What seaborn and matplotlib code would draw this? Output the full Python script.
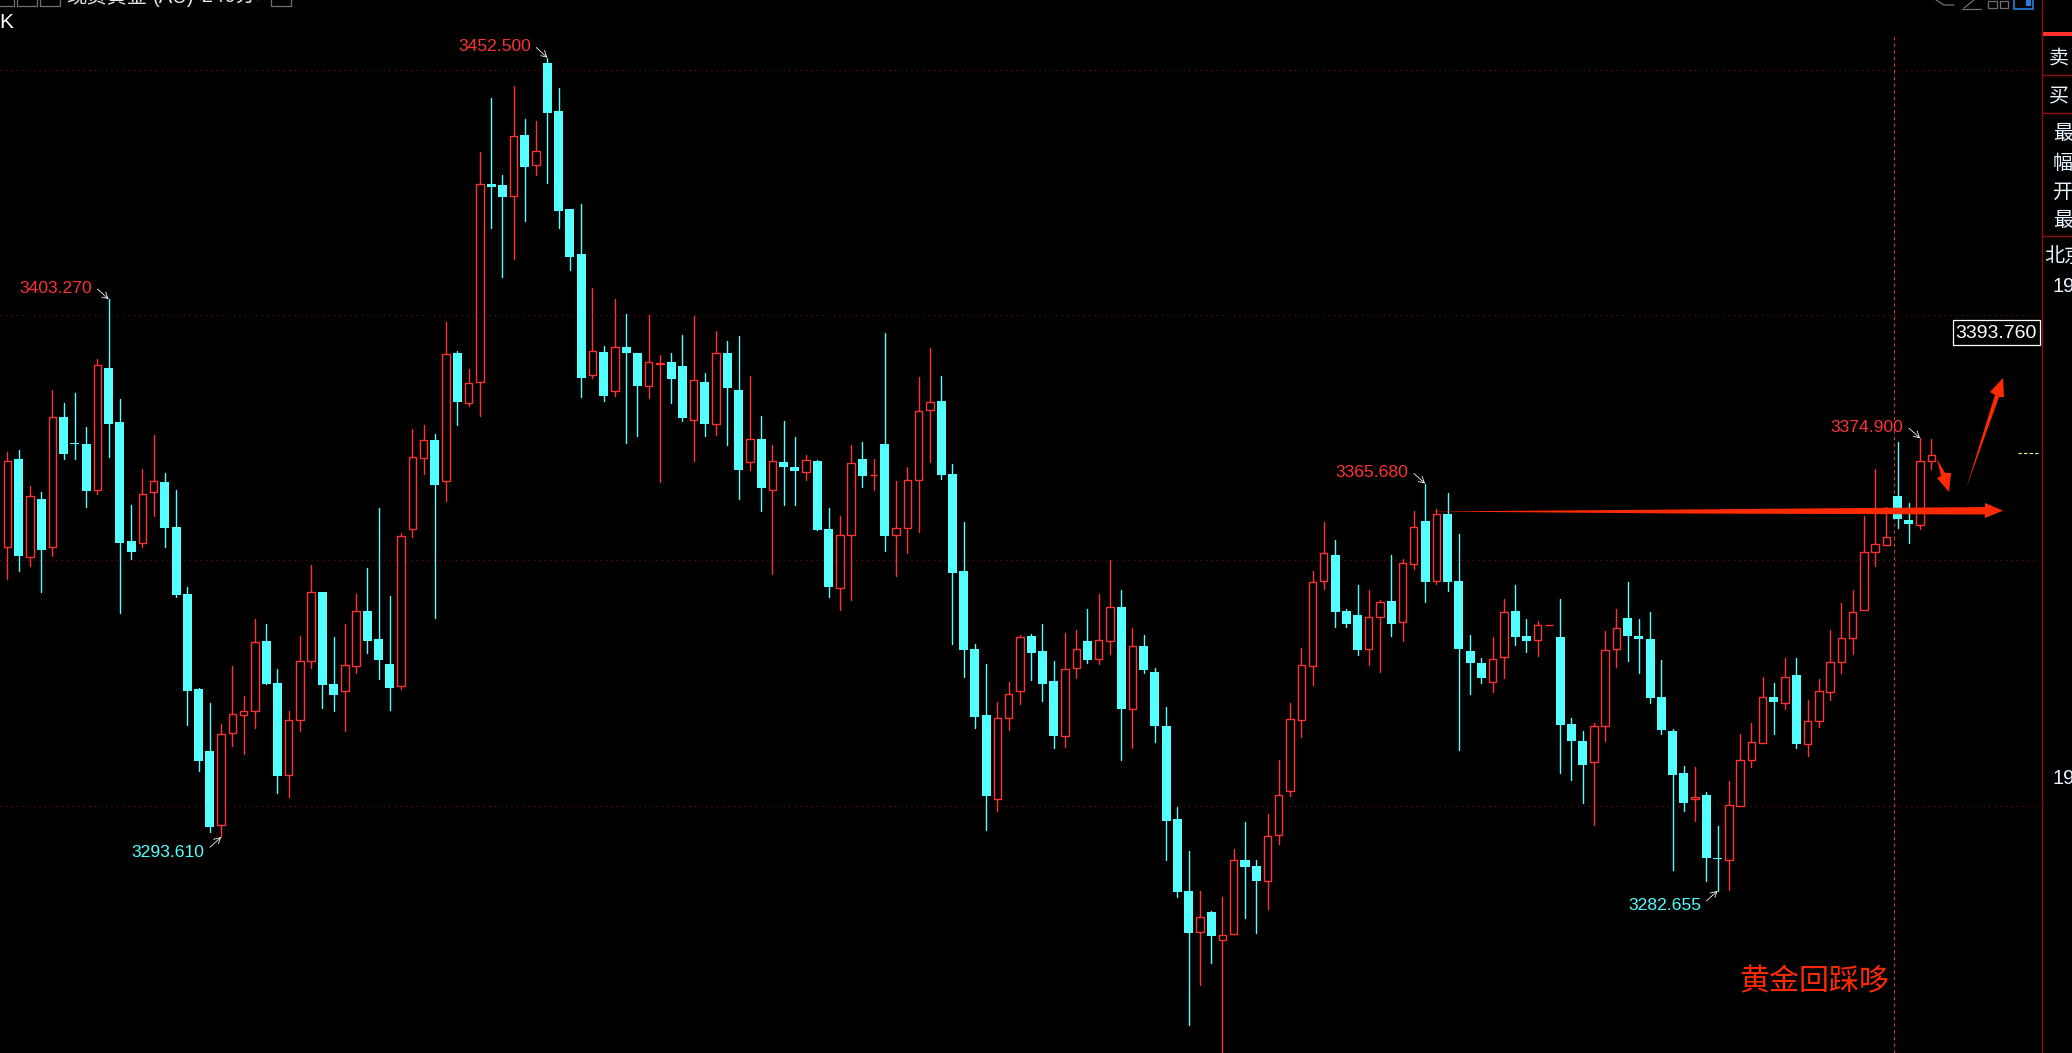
import numpy as np
import pandas as pd
import seaborn as sns
import matplotlib
matplotlib.use("Agg")
import matplotlib.pyplot as plt
from matplotlib.patches import Polygon, Rectangle

# candle values (4h spot gold)
directions = ("RCRCRCCCRC" "CCRRCCCCCR" "RRRCCRRRCC" "RRCCCRRRCR" "CRRCCRCRCC"
              "CCRCRCCRRC" "CRCRCCRCRC" "CRCCRRCRCR" "RRRCCCCCRR" "RCCCRRCRRC"
              "RCCCCCRCRR" "CCRRRRRRCC" "CRRCRRCRCC" "CCRRCCRRCC" "CRRRCCCCCC"
              "RCCRRRRCRC" "RRRRRRRRCCRR")

highs = [3372.2,3372.6,3365.2,3364.0,3384.7,3382.0,3384.1,3377.3,3391.1,3403.27,
         3383.0,3361.3,3368.6,3375.5,3367.8,3364.3,3344.5,3324.1,3321.0,3316.6,
         3328.4,3322.3,3338.1,3337.1,3327.9,3319.3,3334.7,3349.0,3343.6,3334.5,
         3337.1,3343.1,3348.5,3360.6,3342.8,3355.6,3376.7,3377.7,3375.7,3398.7,
         3392.8,3389.1,3433.2,3444.3,3428.5,3446.7,3439.9,3439.6,3452.5,3446.3,
         3421.6,3422.6,3405.5,3393.8,3403.3,3400.3,3392.3,3400.0,3391.8,3392.2,
         3395.9,3399.8,3388.3,3396.7,3394.7,3395.7,3387.7,3379.4,3373.6,3378.4,
         3375.1,3371.4,3370.4,3360.6,3359.1,3373.6,3374.2,3370.6,3396.3,3366.3,
         3369.1,3387.5,3393.4,3387.6,3369.7,3357.8,3333.0,3328.9,3321.2,3325.3,
         3334.8,3335.1,3337.0,3329.5,3335.3,3335.8,3340.2,3343.2,3350.1,3344.0,
         3336.2,3334.8,3328.1,3320.2,3299.7,3290.8,3282.6,3278.5,3281.4,3291.2,
         3296.7,3288.9,3298.3,3309.3,3321.0,3332.1,3347.9,3357.9,3354.2,3340.2,
         3344.9,3343.9,3342.0,3351.1,3350.4,3360.0,3365.68,3360.4,3363.7,3355.3,
         3334.9,3330.2,3334.3,3342.2,3344.9,3338.0,3337.6,3336.9,3342.2,3317.8,
         3315.3,3316.9,3335.7,3340.2,3345.7,3338.0,3339.4,3329.8,3315.7,3308.2,
         3307.8,3302.9,3295.9,3305.1,3314.7,3316.8,3326.3,3325.1,3330.2,3330.2,
         3321.6,3325.9,3335.9,3341.4,3343.9,3359.0,3368.6,3360.9,3374.1,3361.7,3374.9,3374.7]

body_tops = [3370.3,3370.6,3363.1,3362.6,3379.2,3379.3,3373.9,3373.7,3389.8,3389.2,
             3378.3,3354.0,3363.6,3366.1,3366.0,3356.8,3343.2,3323.8,3311.2,3314.6,
             3318.8,3319.3,3333.4,3333.6,3325.1,3317.4,3329.6,3343.5,3343.6,3324.8,
             3328.6,3339.6,3339.7,3334.0,3328.9,3354.9,3371.0,3374.5,3374.6,3392.0,
             3392.3,3386.1,3426.8,3426.8,3426.6,3436.6,3436.7,3433.4,3451.5,3441.7,
             3421.6,3412.5,3392.8,3392.5,3393.6,3393.6,3392.3,3390.4,3390.3,3390.5,
             3389.6,3386.7,3386.3,3392.2,3392.3,3384.7,3374.8,3374.7,3370.2,3370.0,
             3369.1,3370.4,3370.3,3356.4,3355.1,3369.9,3370.7,3367.5,3373.7,3356.7,
             3366.5,3380.4,3382.4,3382.5,3367.6,3347.8,3332.0,3318.4,3317.9,3322.8,
             3334.4,3334.7,3331.6,3325.4,3327.9,3331.9,3333.5,3333.8,3340.5,3340.6,
             3332.6,3332.5,3327.3,3316.2,3297.4,3282.7,3277.3,3278.3,3273.7,3288.9,
             3289.0,3287.8,3293.8,3302.2,3317.7,3328.7,3345.6,3351.5,3351.1,3339.6,
             3338.8,3338.5,3341.5,3341.8,3349.4,3356.9,3358.0,3359.4,3359.5,3345.8,
             3331.6,3329.0,3330.0,3339.4,3339.7,3334.6,3336.9,3336.9,3334.4,3316.6,
             3313.3,3316.3,3331.8,3336.3,3338.2,3334.6,3333.9,3322.1,3315.2,3306.6,
             3301.8,3302.1,3289.4,3300.2,3309.4,3313.0,3322.2,3322.1,3326.3,3326.6,
             3317.3,3323.3,3329.4,3334.1,3339.4,3351.8,3353.3,3354.7,3363.1,3358.2,3370.2,3371.4]

body_bottoms = [3352.7,3350.9,3350.8,3352.2,3352.7,3371.7,3373.7,3364.2,3364.3,3377.8,
                3353.6,3351.8,3353.6,3363.9,3356.6,3343.0,3323.4,3309.2,3295.7,3296.0,
                3314.8,3318.6,3319.3,3324.8,3306.1,3306.2,3317.4,3329.6,3324.6,3322.6,
                3323.3,3328.4,3333.6,3329.8,3324.1,3324.5,3356.5,3370.8,3365.4,3366.3,
                3382.3,3382.2,3386.3,3426.1,3424.1,3424.2,3430.2,3430.6,3441.3,3421.3,
                3411.9,3387.2,3387.9,3383.5,3384.5,3392.3,3385.6,3385.5,3390.1,3387.0,
                3379.0,3378.7,3377.8,3377.9,3385.1,3368.4,3370.1,3364.8,3364.4,3369.1,
                3368.2,3368.0,3356.2,3344.5,3344.4,3355.2,3367.2,3367.4,3355.0,3355.1,
                3356.7,3366.5,3380.7,3367.4,3347.4,3331.8,3318.0,3301.9,3301.4,3317.9,
                3323.4,3331.2,3324.9,3314.3,3314.2,3328.1,3329.8,3329.9,3333.6,3319.8,
                3319.7,3327.6,3316.2,3296.8,3282.5,3274.1,3274.2,3273.4,3272.6,3273.8,
                3287.6,3284.7,3284.6,3294.0,3303.0,3317.4,3328.5,3345.8,3339.4,3337.1,
                3331.8,3331.9,3338.5,3337.1,3337.5,3349.3,3345.6,3345.9,3345.6,3331.9,
                3329.0,3326.0,3325.2,3330.3,3334.4,3333.5,3333.8,3336.8,3316.4,3313.1,
                3308.4,3308.9,3316.3,3332.0,3334.6,3333.9,3321.9,3315.4,3306.2,3300.5,
                3301.4,3289.3,3289.1,3288.9,3299.9,3309.3,3312.8,3321.1,3321.0,3312.6,
                3312.6,3317.3,3323.2,3329.3,3334.1,3339.9,3351.7,3353.2,3358.5,3357.4,3357.3,3370.3]

lows = [3346.2,3347.8,3348.9,3343.6,3350.9,3370.7,3370.6,3360.9,3363.5,3371.1,
        3339.3,3350.3,3352.8,3359.1,3352.7,3342.5,3316.5,3307.1,3294.7,3293.61,
        3312.2,3310.5,3315.9,3324.8,3302.6,3301.8,3315.2,3328.1,3319.9,3319.4,
        3315.2,3327.1,3331.1,3325.8,3319.5,3323.7,3354.8,3367.7,3338.3,3362.2,
        3377.6,3381.5,3379.5,3417.7,3407.8,3411.5,3419.1,3428.6,3427.0,3417.8,
        3409.3,3383.3,3387.2,3382.5,3383.5,3374.0,3375.3,3383.1,3366.0,3382.1,
        3378.4,3370.3,3375.3,3375.6,3373.5,3362.5,3368.4,3360.1,3347.2,3361.3,
        3361.3,3366.4,3356.2,3342.5,3340.0,3341.9,3364.9,3364.3,3351.9,3346.8,
        3351.5,3355.8,3370.0,3366.7,3332.9,3326.3,3315.8,3295.1,3299.0,3315.4,
        3320.7,3325.6,3321.3,3311.7,3312.0,3326.0,3329.2,3328.8,3330.9,3309.4,
        3311.7,3327.1,3312.9,3289.0,3281.5,3255.3,3263.4,3268.0,3248.0,3273.8,
        3277.2,3274.1,3279.0,3292.3,3301.9,3314.1,3324.7,3344.1,3336.5,3336.5,
        3330.7,3328.6,3327.3,3334.7,3333.5,3348.2,3341.5,3345.2,3343.7,3311.3,
        3322.7,3325.0,3323.1,3326.0,3332.7,3331.3,3330.5,3336.8,3306.6,3305.2,
        3300.5,3296.0,3313.1,3328.2,3329.5,3327.0,3320.9,3314.6,3287.0,3299.0,
        3296.8,3284.6,3282.655,3282.9,3299.9,3307.8,3312.8,3314.6,3319.7,3311.8,
        3310.1,3316.0,3321.5,3327.0,3330.9,3339.9,3348.8,3353.2,3356.6,3353.6,3356.4,3368.7]

grid_prices = [3450, 3400, 3350, 3300]
peak_index = [9, 48, 126, 170]
peak_labels = ["3403.270", "3452.500", "3365.680", "3374.900"]
trough_index = [19, 152]
trough_labels = ["3293.610", "3282.655"]
last_price = 3371.9
cursor_index = 167.7
cursor_label = "3393.760"
note = "黄金回踩哆"
title_parts = ["现货黄金", "(AU)", "<240分>"]
side_labels = ["卖", "买", "最", "幅", "开", "最", "北京", "19"]

W, H = 2072, 1053
RED = "#ff3232"
CYAN = "#54ffff"
ARROW = "#ff2a00"
GRID = "#7a0f0f"
PANEL = "#8c1010"

sns.set_theme(style="dark", rc={"axes.facecolor": "black", "figure.facecolor": "black"})
plt.rcParams["font.family"] = ["Liberation Sans", "Noto Sans CJK SC", "DejaVu Sans"]

df = pd.DataFrame({"high": highs, "top": body_tops, "bottom": body_bottoms, "low": lows,
                   "dir": list(directions)})
df["idx"] = df.index
wicks = df.melt(id_vars=["idx", "dir"], value_vars=["high", "low"], value_name="price")

fig = plt.figure(figsize=(W / 100, H / 100), dpi=100)
ax = fig.add_axes([0, 0, 1, 1])
ax.axis("off")

ax.hlines(grid_prices, -0.65, 180.6, colors=GRID, linestyles=(0, (1, 4)), lw=0.8, zorder=1)
ax.axvline(cursor_index, ymax=1 - 36 / H, color="#d23c3c", ls=(0, (3, 3)), lw=0.8, zorder=1)

sns.lineplot(data=wicks, x="idx", y="price", units="idx", hue="dir", estimator=None,
             palette={"R": RED, "C": CYAN}, lw=1.0, legend=False, ax=ax, zorder=2)

up = df[df["dir"] == "R"]
down = df[df["dir"] == "C"]
ax.bar(down["idx"], down["top"] - down["bottom"], bottom=down["bottom"], width=0.8,
       color=CYAN, lw=0, zorder=3)
ax.bar(up["idx"], up["top"] - up["bottom"], bottom=up["bottom"], width=0.66,
       facecolor="black", edgecolor=RED, lw=1.0, zorder=3)

ax.set_xlim(-0.65, 183.5)
ax.set_ylim(3249.6, 3464.25)

# high / low callouts
tip = dict(arrowstyle="->,head_length=0.35,head_width=0.2", color="white",
           lw=0.7, ls=(0, (1, 1)), shrinkA=0, shrinkB=0)
for i, lab in zip(peak_index, peak_labels):
    ax.annotate(lab, (i, highs[i]), xytext=(-16.5, 11), textcoords="offset pixels",
                color=RED, fontsize=12.6, ha="right", va="center", zorder=6)
    ax.annotate("", (i, highs[i]), xytext=(-11, 10), textcoords="offset pixels", zorder=6,
                arrowprops=tip)
for i, lab in zip(trough_index, trough_labels):
    ax.annotate(lab, (i, lows[i]), xytext=(-16.5, -15), textcoords="offset pixels",
                color=CYAN, fontsize=12.6, ha="right", va="center", zorder=6)
    ax.annotate("", (i, lows[i]), xytext=(-11, -10), textcoords="offset pixels", zorder=6,
                arrowprops=tip)

ax.hlines(last_price, 178.7, 180.6, colors="#ffff99", linestyles=(0, (3, 2)), lw=0.8, zorder=2)

# overlay in pixel coordinates for the screenshot furniture and hand drawn arrows
ov = fig.add_axes([0, 0, 1, 1], facecolor="none")
ov.set_xlim(0, W)
ov.set_ylim(H, 0)
ov.axis("off")

ov.add_patch(Polygon([(1425, 511.5), (1680, 509.5), (1985, 507), (1985, 503), (2003, 510.7),
                      (1985, 518), (1985, 514.5), (1680, 513.5)], color=ARROW, lw=0, zorder=7))
ov.add_patch(Polygon([(1966, 489), (1995, 395), (1990, 392), (2003, 378), (2004, 397), (1999, 397)],
                     color=ARROW, lw=0, zorder=7))
ov.add_patch(Polygon([(1937, 459), (1945, 473), (1951, 473), (1949, 492), (1937, 478), (1941, 476)],
                     color=ARROW, lw=0, zorder=7))

ov.text(1739, 982, note, color=ARROW, fontsize=21.6, va="center", ha="left")

ov.add_patch(Rectangle((1952.5, 319.5), 87, 25, facecolor="black", edgecolor="white", lw=0.9, zorder=8))
ov.text(1996, 333, cursor_label, color="white", fontsize=14, ha="center", va="center", zorder=9)

# right info panel, cut by the image edge
ov.plot([2041.5, 2041.5], [0, H], color=PANEL, lw=1.0)
ov.add_patch(Rectangle((2042, 32), 30, 4, color=RED, lw=0))
for y in [74.5, 112.5, 235.5]:
    ov.plot([2042, W], [y, y], color=PANEL, lw=1.0)
for lab, x, y in zip(side_labels, [2049, 2049, 2053, 2053, 2053, 2053, 2044, 2053],
                     [58.5, 96.5, 133.5, 163.5, 192.5, 220.5, 256.5, 286]):
    ov.text(x, y, lab, color="#e8f4ff", fontsize=14.4, va="center", ha="left")
ov.text(2053, 778, side_labels[-1], color="#e8f4ff", fontsize=14.4, va="center", ha="left")

# title bar, only the lower edge is still in the screenshot
for part, x in zip(title_parts, [66, 153, 190]):
    ov.text(x, 7, part, color="#e0e8f0", fontsize=14.6, va="bottom", ha="left")
ov.text(-1, 22.5, "K", color="white", fontsize=15, va="center", ha="left")
for x0, x1 in [(-3, 14), (17, 37), (40, 60), (271, 291)]:
    ov.add_patch(Rectangle((x0, -4), x1 - x0, 9.5, facecolor="none", edgecolor="#707070", lw=0.9))
for x0, x1 in [(1988, 1997), (2000, 2008)]:
    ov.add_patch(Rectangle((x0, 1), x1 - x0, 7, facecolor="none", edgecolor="#707070", lw=0.9))
ov.add_patch(Rectangle((2013.5, -4), 19, 12.5, facecolor="none", edgecolor="#2a7de1", lw=1.2))
ov.add_patch(Rectangle((2026, -4), 5, 10, color="#2a7de1", lw=0))
ov.plot([1962, 1981], [8.5, 8.5], color="#707070", lw=0.9)
ov.plot([1964, 1974], [8, 0], color="#707070", lw=0.9)
ov.plot([1936, 1944, 1954], [0, 5, 5], color="#707070", lw=0.9)

fig.savefig("out.png", dpi=100, facecolor="black")
